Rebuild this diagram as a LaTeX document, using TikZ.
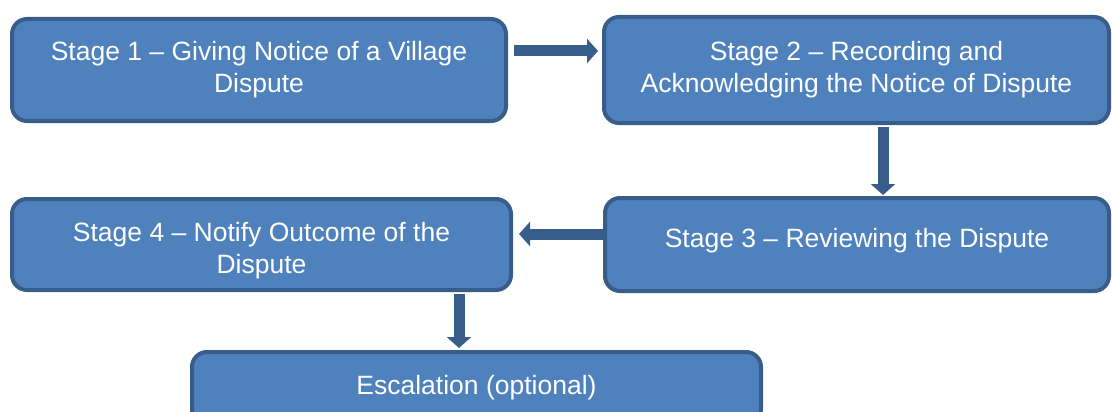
\documentclass[tikz,border=0pt]{standalone}
\usepackage{fontspec}
\setmainfont{Liberation Sans}
\usetikzlibrary{arrows.meta}
\definecolor{boxfill}{HTML}{4F81BD}
\definecolor{boxline}{HTML}{385D8A}
\begin{document}
\begin{tikzpicture}[x=1pt,y=-1pt,
  stagebox/.style={draw=boxline,fill=boxfill,line width=4pt,rounded corners=15pt,
    text=white,align=center,inner sep=0pt,font=\fontsize{26.5}{32}\selectfont},
  arr/.style={draw=boxline,line width=11pt,-{Triangle[width=24pt,length=11pt]}}]
\useasboundingbox (0,0) rectangle (1112,412);
\begin{scope}
\clip (0,0) rectangle (1112,412);
\node[stagebox,minimum width=494pt,minimum height=102pt] (b1) at (259,70)
  {Stage 1 -- Giving Notice of a Village\\Dispute};
\node[stagebox,minimum width=505pt,minimum height=106pt] (b2) at (856.5,70)
  {Stage 2 -- Recording and\\Acknowledging the Notice of Dispute};
\node[stagebox,minimum width=504pt,minimum height=93pt] (b3) at (857,244.5)
  {\raisebox{4pt}[\height][\depth]{Stage 3 -- Reviewing the Dispute}};
\node[stagebox,minimum width=499pt,minimum height=91pt] (b4) at (261.5,244.5)
  {\raisebox{-7pt}[\height][\depth]{\begin{tabular}{@{}c@{}}Stage 4 -- Notify Outcome of the\\Dispute\end{tabular}}};
\node[stagebox,minimum width=569pt,minimum height=72pt] (b5) at (476.5,388)
  {Escalation (optional)};
\end{scope}
\draw[arr,shorten <=6pt,shorten >=4pt] ([yshift=19pt]b1.east) -- ([yshift=19pt]b1.east -| b2.west);
\draw[arr,shorten <=2pt,shorten >=1pt] ([xshift=26.5pt]b2.south) -- ([xshift=26.5pt]b2.south |- b3.north);
\draw[arr,shorten <=0pt,shorten >=6pt] ([yshift=10.5pt]b3.west) -- ([yshift=10.5pt]b3.west -| b4.east);
\draw[arr,shorten <=2pt,shorten >=2pt] ([xshift=197.5pt]b4.south) -- ([xshift=197.5pt]b4.south |- b5.north);
\end{tikzpicture}
\end{document}
